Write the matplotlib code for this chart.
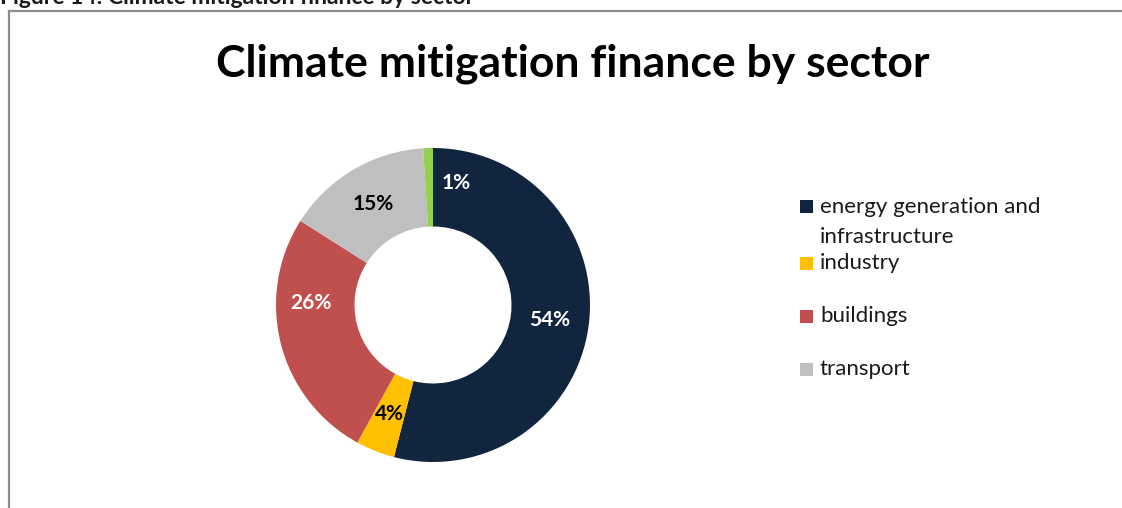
import numpy as np
import matplotlib.pyplot as plt
from matplotlib.patches import Rectangle
from matplotlib.lines import Line2D

# sector shares (%), clockwise from 12 o'clock
sectors = ['energy generation and\ninfrastructure', 'industry', 'buildings', 'transport', 'other']
shares = [54, 4, 26, 15, 1]
colors = ['#12253F', '#FFC000', '#C0504D', '#BFBFBF', '#92D050']
label_colors = ['white', 'black', 'white', 'black', 'white']
in_legend = [True, True, True, True, False]

W, H = 1122, 508
plt.rcParams['font.family'] = ['Lato', 'DejaVu Sans']

fig = plt.figure(figsize=(W / 100, H / 100), dpi=100)


def fx(px):
    return px / W


def fy(py):
    return 1 - py / H


# chart frame (only top and left edges inside the crop)
fig.add_artist(Line2D([fx(9), fx(9)], [fy(11), fy(H + 5)], color='#8C8C8C', lw=1.6))
fig.add_artist(Line2D([fx(9), fx(W + 5)], [fy(11), fy(11)], color='#8C8C8C', lw=1.6))

# caption above the frame, cut off at the top edge
fig.text(fx(0), fy(4), 'Figure 14: Climate mitigation finance by sector',
         fontsize=16.5, fontweight='bold', ha='left', va='baseline', color='#1A1A1A')

fig.text(fx(573), fy(77), 'Climate mitigation finance by sector',
         fontsize=32, fontweight='bold', ha='center', va='baseline')

# doughnut
cx, cy, r = 433, 305, 157
ax = fig.add_axes([fx(cx - r), fy(cy + r), 2 * r / W, 2 * r / H])
ax.pie(shares, colors=colors, startangle=90, counterclock=False,
       radius=1, wedgeprops=dict(width=0.5, linewidth=0))
ax.set_xlim(-1, 1)
ax.set_ylim(-1, 1)
ax.set_aspect('equal')
ax.axis('off')

# hand-placed labels (axes units) where the default spot was moved
nudged = {1: (0.15, 0.78), 26: (-0.78, 0.01)}

cum = np.cumsum([0] + shares)
for i, (s, c) in enumerate(zip(shares, label_colors)):
    mid = (cum[i] + cum[i + 1]) / 2 / sum(shares) * 2 * np.pi
    x, y = nudged.get(s, (0.75 * np.sin(mid), 0.75 * np.cos(mid)))
    ax.text(x, y, f'{s}%', color=c, fontsize=15, fontweight='bold',
            ha='center', va='center')

# legend
legend_y = [207, 263, 316, 369]
k = 0
for lab, col, show in zip(sectors, colors, in_legend):
    if not show:
        continue
    y = legend_y[k]
    fig.add_artist(Rectangle((fx(800), fy(y + 6.5)), 13 / W, 13 / H,
                             transform=fig.transFigure, facecolor=col, edgecolor='none'))
    for j, line in enumerate(lab.split('\n')):
        fig.text(fx(820), fy(y + 6 + 30 * j), line, fontsize=16, ha='left',
                 va='baseline', color='#1A1A1A')
    k += 1

fig.savefig('out.png', dpi=100)
